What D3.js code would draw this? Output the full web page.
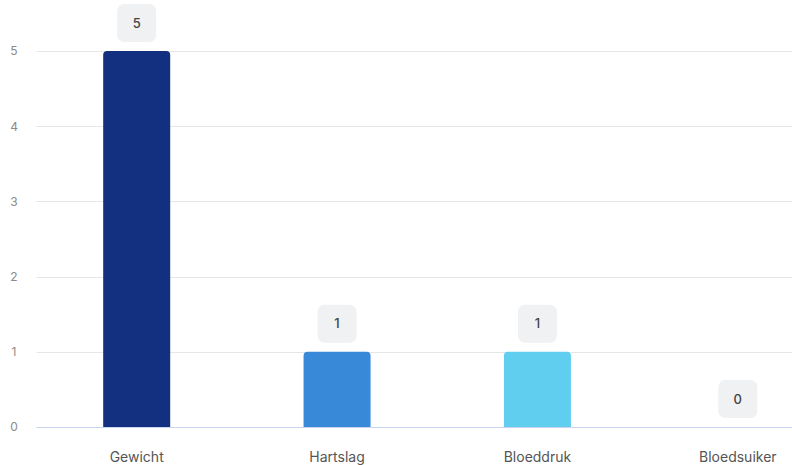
<!DOCTYPE html>
<html><head><meta charset="utf-8">
<script src="https://cdn.jsdelivr.net/npm/d3@7"></script>
<style>body{margin:0;background:#fff;overflow:hidden}svg{display:block;font-family:Inter,"Noto Sans",sans-serif}</style>
</head><body><svg id="c" width="792" height="465"></svg>
<script>
const categories = ["Gewicht","Hartslag","Bloeddruk","Bloedsuiker"];
const values = [5,1,1,0];
const colors = ["#122f80","#3889d8","#60ceef","#8fd3f0"];
const yTicks = [0,1,2,3,4,5];

(function(){
const svg = d3.select("#c");
const left = 36.5, plotRight = 838, base = 427, topY = 51;
const x = d3.scaleBand().domain(categories).range([left, plotRight]).paddingInner(0.666).paddingOuter(0.333);
const y = d3.scaleLinear().domain([0,5]).range([base, topY]);

// gridlines
svg.append("g").selectAll("line").data(yTicks.filter(d=>d>0)).join("line")
  .attr("x1", left).attr("x2", 792).attr("y1", d=>Math.round(y(d))+0.5).attr("y2", d=>Math.round(y(d))+0.5)
  .attr("stroke","#e6e6e6").attr("stroke-width",1);

// y axis labels
const ya = svg.append("g").attr("transform",`translate(19,0)`).call(d3.axisLeft(y).tickValues(yTicks).tickFormat(d3.format("d")).tickSize(0).tickPadding(0));
ya.select(".domain").remove();
ya.selectAll("text").attr("fill","#8a8a8a").attr("font-size",12).attr("font-family","Inter,'Noto Sans',sans-serif").attr("text-anchor","middle").attr("dx",-5);

// bars with rounded top
const bw = 67;
const r = 4;
svg.append("g").selectAll("path").data(categories.map((c,i)=>({c,v:values[i],col:colors[i]})).filter(d=>d.v>0)).join("path")
  .attr("fill", d=>d.col)
  .attr("d", d=>{
    const cx = x(d.c)+x.bandwidth()/2, x0 = cx-bw/2, x1 = cx+bw/2, y0 = y(d.v), y1 = base;
    return `M${x0},${y1}V${y0+r}Q${x0},${y0} ${x0+r},${y0}H${x1-r}Q${x1},${y0} ${x1},${y0+r}V${y1}Z`;
  });

// baseline
svg.append("line").attr("x1",left).attr("x2",792).attr("y1",base+0.5).attr("y2",base+0.5).attr("stroke","#c9d2ee").attr("stroke-width",1);

// value labels
const lab = svg.append("g").selectAll("g").data(categories.map((c,i)=>({c,v:values[i]}))).join("g")
  .attr("transform", d=>`translate(${x(d.c)+x.bandwidth()/2},${y(d.v)-9})`);
lab.append("rect").attr("x",-19.5).attr("y",-38).attr("width",39).attr("height",38).attr("rx",7).attr("fill","#f0f1f2");
lab.append("text").attr("y",-19).attr("dy","0.35em").attr("text-anchor","middle").attr("font-size",13).attr("font-weight",500).attr("fill","#444").text(d=>d.v);

// x labels
svg.append("g").selectAll("text").data(categories).join("text")
  .attr("x", d=>x(d)+x.bandwidth()/2).attr("y",457).attr("dy","0.35em").attr("text-anchor","middle")
  .attr("font-size",14).attr("fill","#555").text(d=>d);
})();
</script></body></html>
